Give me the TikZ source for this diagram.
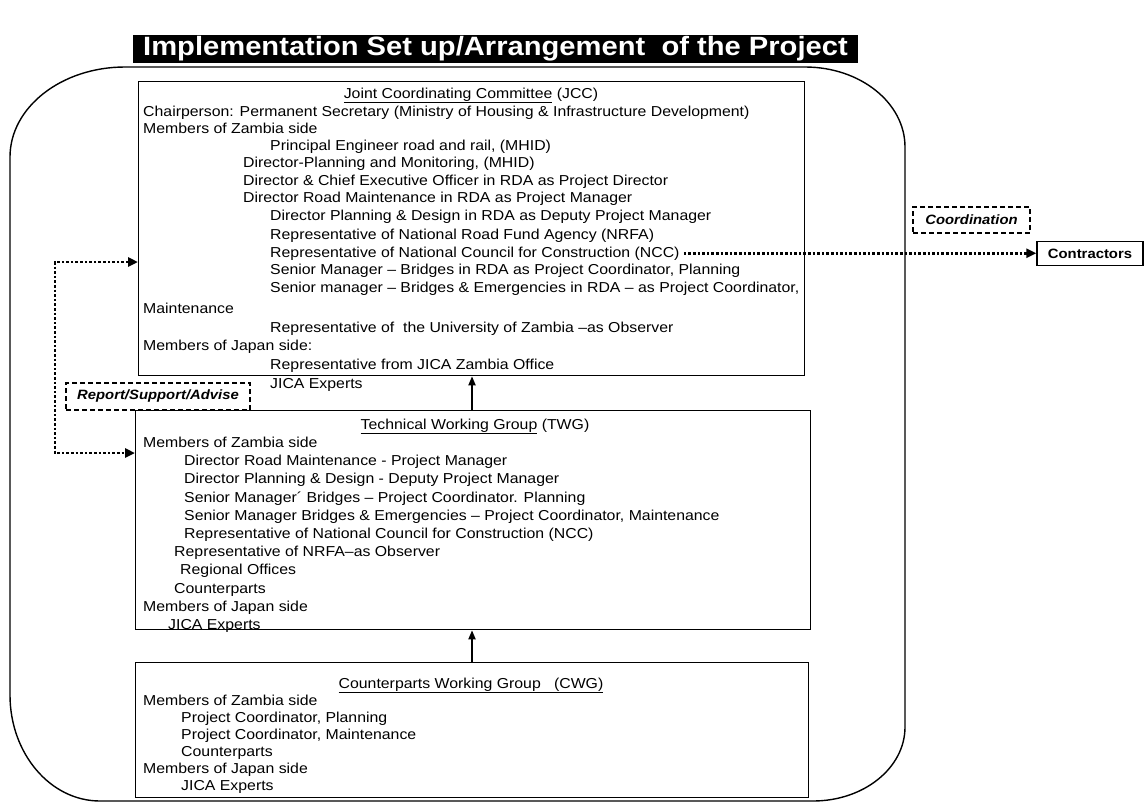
\documentclass[tikz,border=0pt]{standalone}
\usepackage{fontspec}
\setmainfont{Liberation Sans}[FakeStretch=1.1]
\usetikzlibrary{arrows.meta}
\begin{document}
\begin{tikzpicture}[x=1pt,y=-1pt,
  boxframe/.style={draw, line width=1.3pt, inner sep=0pt, anchor=north west},
  txt/.style={anchor=base west, inner sep=0pt, font=\fontsize{14.4}{17}\selectfont},
  hdr/.style={anchor=base, inner sep=0pt, font=\fontsize{14.4}{17}\selectfont},
  dashbox/.style={draw, line width=1.4pt, dash pattern=on 5pt off 3pt, inner sep=0pt, font=\fontsize{13.5}{16}\selectfont\bfseries\itshape},
  dotline/.style={line width=2.6pt, dash pattern=on 2.6pt off 2pt},
  dottip/.style={-{Triangle[length=10pt,width=9pt]}},
  solidup/.style={line width=1.8pt, -{Triangle[length=9pt,width=7pt]}}
]
\useasboundingbox (0,0) rectangle (1145,803);

% title bar
\node[fill=black, text=white, minimum width=725pt, minimum height=28pt, inner sep=0pt,
  font=\fontsize{26.5}{28}\selectfont\bfseries] (title) at (495.5,49) {Implementation Set up/Arrangement\ \ of the Project};

% outer frame
\draw[line width=1.4pt] (10,157) .. controls (10,107.3) and (61.5,67) .. (125,67)
  -- (805,67) .. controls (860.2,67) and (905,102.8) .. (905,147)
  -- (905,727) .. controls (905,767.9) and (863.8,801) .. (813,801)
  -- (100,801) .. controls (50.3,801) and (10,753.5) .. (10,695) -- cycle;

% boxes
\node[boxframe, minimum width=666pt, minimum height=294pt] (jcc) at (138,81) {};
\node[boxframe, minimum width=675pt, minimum height=219pt] (twg) at (135,410) {};
\node[boxframe, minimum width=673pt, minimum height=135pt] (cwg) at (135,662) {};

% JCC text
\node[hdr] (j0) at (471,98) {\underline{Joint Coordinating Committee} (JCC)};
\node[txt] (j1) at (143,116) {Chairperson: Permanent Secretary (Ministry of Housing \& Infrastructure Development)};
\node[txt] (j2) at (143,133) {Members of Zambia side};
\node[txt] (j3) at (270,150) {Principal Engineer road and rail, (MHID)};
\node[txt] (j4) at (243,167) {Director-Planning and Monitoring, (MHID)};
\node[txt] (j5) at (243,185) {Director \& Chief Executive Officer in RDA as Project Director};
\node[txt] (j6) at (243,202) {Director Road Maintenance in RDA as Project Manager};
\node[txt] (j7) at (270,220) {Director Planning \& Design in RDA as Deputy Project Manager};
\node[txt] (j8) at (270,239) {Representative of National Road Fund Agency (NRFA)};
\node[txt] (ncc) at (270,257) {Representative of National Council for Construction (NCC)};
\node[txt] (j10) at (270,274) {Senior Manager – Bridges in RDA as Project Coordinator, Planning};
\node[txt] (j11) at (270,292) {Senior manager – Bridges \& Emergencies in RDA – as Project Coordinator,};
\node[txt] (j12) at (143,313) {Maintenance};
\node[txt] (j13) at (270,332) {Representative of\ \ the University of Zambia –as Observer};
\node[txt] (j14) at (143,350) {Members of Japan side:};
\node[txt] (j15) at (270,369) {Representative from JICA Zambia Office};
\node[txt] (j16) at (270,388) {JICA Experts};

% TWG text
\node[hdr] (t0) at (475,429) {\underline{Technical Working Group} (TWG)};
\node[txt] (t1) at (143,447) {Members of Zambia side};
\node[txt] (t2) at (184,465) {Director Road Maintenance - Project Manager};
\node[txt] (t3) at (184,483) {Director Planning \& Design - Deputy Project Manager};
\node[txt] (t4) at (184,502) {Senior Manager´ Bridges – Project Coordinator. Planning};
\node[txt] (t5) at (184,520) {Senior Manager Bridges \& Emergencies – Project Coordinator, Maintenance};
\node[txt] (t6) at (184,538) {Representative of National Council for Construction (NCC)};
\node[txt] (t7) at (174,556) {Representative of NRFA–as Observer};
\node[txt] (t8) at (180,574) {Regional Offices};
\node[txt] (t9) at (174,593) {Counterparts};
\node[txt] (t10) at (143,611) {Members of Japan side};
\node[txt] (t11) at (168,629) {JICA Experts};

% CWG text
\node[hdr] (c0) at (471,688) {\underline{Counterparts Working Group\ \ \ (CWG)}};
\node[txt] (c1) at (143,705) {Members of Zambia side};
\node[txt] (c2) at (181,722) {Project Coordinator, Planning};
\node[txt] (c3) at (181,739) {Project Coordinator, Maintenance};
\node[txt] (c4) at (181,756) {Counterparts};
\node[txt] (c5) at (143,773) {Members of Japan side};
\node[txt] (c6) at (181,790) {JICA Experts};

% side boxes
\node[dashbox, minimum width=184pt, minimum height=27pt] (report) at (158,396.5) {Report/Support/Advise};
\node[dashbox, minimum width=117pt, minimum height=26pt] (coord) at (971.5,220) {Coordination};
\node[draw, line width=1.3pt, inner sep=0pt, minimum width=106pt, minimum height=24pt,
  font=\fontsize{13.5}{16}\selectfont\bfseries] (contr) at (1090,253.5) {Contractors};

% connectors
\coordinate (ax) at (472,0);
\draw[solidup] (twg.north -| ax) -- (jcc.south -| ax);
\draw[solidup] (cwg.north -| ax) -- (twg.south -| ax);

\coordinate (la) at (55,262);
\coordinate (lb) at (55,453);
\draw[dotline, {Triangle[length=10pt,width=9pt]}-{Triangle[length=10pt,width=9pt]}]
  (jcc.west |- la) -- (la) -- (lb) -- (twg.west |- lb);

\draw[dotline, dottip] ([xshift=4pt]ncc.east) -- (ncc.east -| contr.west);
\end{tikzpicture}
\end{document}
